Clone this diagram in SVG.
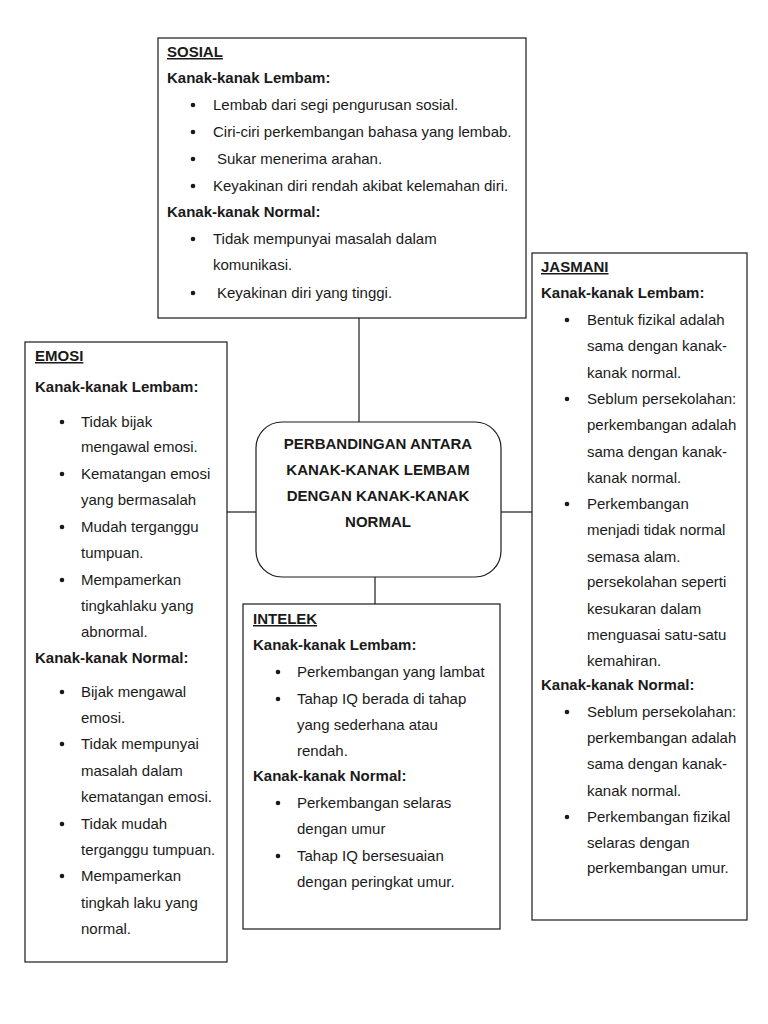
<svg xmlns="http://www.w3.org/2000/svg" width="768" height="1024" viewBox="0 0 768 1024">
<style>
.box{fill:#fff;stroke:#1a1a1a;stroke-width:1.2}
.conn{stroke:#1a1a1a;stroke-width:1.2;fill:none}
text{font-family:"Liberation Sans",Arial,sans-serif;font-size:15px;fill:#1a1a1a}
.h{font-weight:bold;text-decoration:underline}
.b{font-weight:bold}
.c{font-weight:bold;text-anchor:middle}
.dot{fill:#1a1a1a}
</style>
<rect width="768" height="1024" fill="#fff"/>
<g id="connectors">
<line class="conn" x1="359" y1="318" x2="359" y2="422"/>
<line class="conn" x1="227" y1="512" x2="256" y2="512"/>
<line class="conn" x1="501" y1="512" x2="532" y2="512"/>
<line class="conn" x1="375" y1="571" x2="375" y2="604"/>
</g>
<g id="sosial">
<rect class="box" x="158" y="38" width="368" height="280"/>
<text class="h" x="167" y="57">SOSIAL</text>
<text class="b" x="167" y="83">Kanak-kanak Lembam:</text>
<circle class="dot" cx="193" cy="105" r="2.3"/><text x="213" y="110">Lembab dari segi pengurusan sosial.</text>
<circle class="dot" cx="193" cy="132" r="2.3"/><text x="213" y="137">Ciri-ciri perkembangan bahasa yang lembab.</text>
<circle class="dot" cx="193" cy="159" r="2.3"/><text x="217" y="164">Sukar menerima arahan.</text>
<circle class="dot" cx="193" cy="186" r="2.3"/><text x="213" y="191">Keyakinan diri rendah akibat kelemahan diri.</text>
<text class="b" x="167" y="217">Kanak-kanak Normal:</text>
<circle class="dot" cx="193" cy="239" r="2.3"/><text x="213" y="244">Tidak mempunyai masalah dalam</text>
<text x="213" y="270">komunikasi.</text>
<circle class="dot" cx="193" cy="293" r="2.3"/><text x="217" y="298">Keyakinan diri yang tinggi.</text>
</g>
<g id="emosi">
<rect class="box" x="25" y="342" width="202" height="620"/>
<text class="h" x="35" y="361">EMOSI</text>
<text class="b" x="35" y="392">Kanak-kanak Lembam:</text>
<circle class="dot" cx="62" cy="422" r="2.3"/><text x="81" y="427">Tidak bijak</text>
<text x="81" y="452">mengawal emosi.</text>
<circle class="dot" cx="62" cy="474" r="2.3"/><text x="81" y="479">Kematangan emosi</text>
<text x="81" y="505">yang bermasalah</text>
<circle class="dot" cx="62" cy="527" r="2.3"/><text x="81" y="532">Mudah terganggu</text>
<text x="81" y="558">tumpuan.</text>
<circle class="dot" cx="62" cy="580" r="2.3"/><text x="81" y="585">Mempamerkan</text>
<text x="81" y="611">tingkahlaku yang</text>
<text x="81" y="637">abnormal.</text>
<text class="b" x="35" y="663">Kanak-kanak Normal:</text>
<circle class="dot" cx="62" cy="692" r="2.3"/><text x="81" y="697">Bijak mengawal</text>
<text x="81" y="723">emosi.</text>
<circle class="dot" cx="62" cy="744" r="2.3"/><text x="81" y="749">Tidak mempunyai</text>
<text x="81" y="776">masalah dalam</text>
<text x="81" y="802">kematangan emosi.</text>
<circle class="dot" cx="62" cy="824" r="2.3"/><text x="81" y="829">Tidak mudah</text>
<text x="81" y="855">terganggu tumpuan.</text>
<circle class="dot" cx="62" cy="876" r="2.3"/><text x="81" y="881">Mempamerkan</text>
<text x="81" y="908">tingkah laku yang</text>
<text x="81" y="934">normal.</text>
</g>
<g id="centre">
<rect class="box" x="256" y="422" width="245" height="155" rx="26" ry="26"/>
<text class="c" x="378" y="449">PERBANDINGAN ANTARA</text>
<text class="c" x="378" y="475">KANAK-KANAK LEMBAM</text>
<text class="c" x="378" y="501">DENGAN KANAK-KANAK</text>
<text class="c" x="378" y="527">NORMAL</text>
</g>
<g id="intelek">
<rect class="box" x="243" y="604" width="257" height="325"/>
<text class="h" x="253" y="624">INTELEK</text>
<text class="b" x="253" y="650">Kanak-kanak Lembam:</text>
<circle class="dot" cx="278" cy="672" r="2.3"/><text x="297" y="677">Perkembangan yang lambat</text>
<circle class="dot" cx="278" cy="699" r="2.3"/><text x="297" y="704">Tahap IQ berada di tahap</text>
<text x="297" y="730">yang sederhana atau</text>
<text x="297" y="756">rendah.</text>
<text class="b" x="253" y="781">Kanak-kanak Normal:</text>
<circle class="dot" cx="278" cy="803" r="2.3"/><text x="297" y="808">Perkembangan selaras</text>
<text x="297" y="834">dengan umur</text>
<circle class="dot" cx="278" cy="856" r="2.3"/><text x="297" y="861">Tahap IQ bersesuaian</text>
<text x="297" y="887">dengan peringkat umur.</text>
</g>
<g id="jasmani">
<rect class="box" x="532" y="253" width="215" height="667"/>
<text class="h" x="541" y="272">JASMANI</text>
<text class="b" x="541" y="298">Kanak-kanak Lembam:</text>
<circle class="dot" cx="567" cy="320" r="2.3"/><text x="587" y="325">Bentuk fizikal adalah</text>
<text x="587" y="351">sama dengan kanak-</text>
<text x="587" y="378">kanak normal.</text>
<circle class="dot" cx="567" cy="399" r="2.3"/><text x="587" y="404">Seblum persekolahan:</text>
<text x="587" y="430">perkembangan adalah</text>
<text x="587" y="457">sama dengan kanak-</text>
<text x="587" y="483">kanak normal.</text>
<circle class="dot" cx="567" cy="504" r="2.3"/><text x="587" y="509">Perkembangan</text>
<text x="587" y="535">menjadi tidak normal</text>
<text x="587" y="562">semasa alam.</text>
<text x="587" y="587">persekolahan seperti</text>
<text x="587" y="614">kesukaran dalam</text>
<text x="587" y="640">menguasai satu-satu</text>
<text x="587" y="666">kemahiran.</text>
<text class="b" x="541" y="690">Kanak-kanak Normal:</text>
<circle class="dot" cx="567" cy="712" r="2.3"/><text x="587" y="717">Seblum persekolahan:</text>
<text x="587" y="743">perkembangan adalah</text>
<text x="587" y="769">sama dengan kanak-</text>
<text x="587" y="796">kanak normal.</text>
<circle class="dot" cx="567" cy="817" r="2.3"/><text x="587" y="822">Perkembangan fizikal</text>
<text x="587" y="848">selaras dengan</text>
<text x="587" y="873">perkembangan umur.</text>
</g>
</svg>
